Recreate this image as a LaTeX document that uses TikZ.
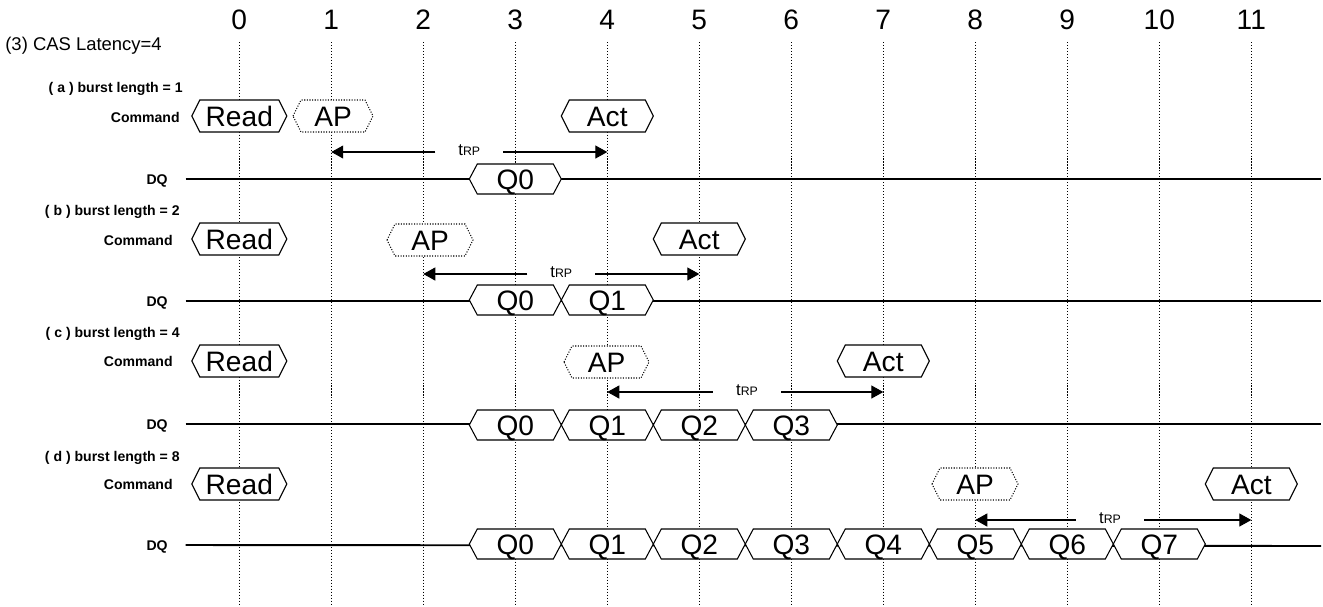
\documentclass[tikz,border=0pt]{standalone}
\usepackage{fontspec}
\setmainfont{Liberation Sans}
\usetikzlibrary{arrows.meta}

\tikzset{
  gridline/.style={line width=0.5pt, dash pattern=on 0.6pt off 1.1pt},
  busline/.style={line width=1.1pt},
  cmdbox/.style={draw, fill=white, line width=0.6pt},
  apbox/.style={cmdbox, dash pattern=on 0.6pt off 0.9pt},
  boxtext/.style={inner sep=0pt, font=\fontsize{16}{18}\selectfont, text height=11.5pt, text depth=0pt},
  clocknum/.style={inner sep=0pt, font=\fontsize{16}{18}\selectfont, text height=11.5pt, text depth=0pt},
  rowlabel/.style={anchor=east, inner sep=0pt, font=\bfseries\fontsize{8}{10}\selectfont, text height=5.7pt, text depth=0pt},
  trplabel/.style={anchor=base, inner xsep=13pt, inner ysep=0pt, font=\fontsize{9.5}{11}\selectfont},
  trp/.style={-{Triangle[length=6.8pt,width=7.4pt]}, line width=0.6pt},
}

% hexagonal bus box: style, name, x, y, half width, half height, text
\newcommand{\hexbox}[7]{%
  \draw[#1] (#3-#5,#4) -- (#3-#5+8,#4-#6) -- (#3+#5-8,#4-#6) -- (#3+#5,#4)
    -- (#3+#5-8,#4+#6) -- (#3-#5+8,#4+#6) -- cycle;
  \node[boxtext] (#2) at (#3,#4) {#7};
}

\begin{document}
\begin{tikzpicture}[x=0.02cm, y=-0.02cm]
	\useasboundingbox (0,0) rectangle (1323,606);
	% clock cycles
	\foreach \k in {0,...,11} {
		\node[clocknum] (t\k) at (239.3+92*\k,19.5) {\k};
		\draw[gridline] (t\k |- 0,42) -- (t\k |- 0,606);
	}
	\node[anchor=west, inner sep=0pt, font=\fontsize{10.5}{12}\selectfont, text height=7.5pt, text depth=0pt] (title) at (5,44) {(3) CAS Latency=4};
	%
	% (a) burst length = 1
	\node[rowlabel] (lbl-a) at (183,87) {( a ) burst length = 1};
	\node[rowlabel] (cmd-a) at (180,117) {Command};
	\node[rowlabel] (dq-a) at (168,179) {DQ};
	\coordinate (dqend-a) at (1321,179);
	\draw[busline] ([xshift=10pt]dq-a.east) -- (dqend-a);
	\hexbox{cmdbox}{rd-a}{239.3}{116}{47.5}{16}{Read}
	\hexbox{apbox}{ap-a}{333}{116}{40}{16}{AP}
	\hexbox{cmdbox}{act-a}{607.3}{116}{46}{16}{Act}
	\hexbox{cmdbox}{q0-a}{515.3}{179}{46}{15}{Q0}
	\coordinate (ts-a) at (331.3,152);
	\coordinate (te-a) at (607.3,152);
	\node[trplabel] (trp-a) at (469.3,155) {t{\fontsize{7}{8}\selectfont RP}};
	\draw[trp] (trp-a.west |- ts-a) -- (ts-a);
	\draw[trp] (trp-a.east |- te-a) -- (te-a);
	%
	% (b) burst length = 2
	\node[rowlabel] (lbl-b) at (180,210) {( b ) burst length = 2};
	\node[rowlabel] (cmd-b) at (173,240) {Command};
	\node[rowlabel] (dq-b) at (168,301) {DQ};
	\coordinate (dqend-b) at (1321,301);
	\draw[busline] ([xshift=10pt]dq-b.east) -- (dqend-b);
	\hexbox{cmdbox}{rd-b}{239.3}{239}{47.5}{16}{Read}
	\hexbox{apbox}{ap-b}{430}{240}{43}{16}{AP}
	\hexbox{cmdbox}{act-b}{699.3}{239}{46}{16}{Act}
	\hexbox{cmdbox}{q0-b}{515.3}{300}{46}{15}{Q0}
	\hexbox{cmdbox}{q1-b}{607.3}{300}{46}{15}{Q1}
	\coordinate (ts-b) at (423.3,274);
	\coordinate (te-b) at (699.3,274);
	\node[trplabel] (trp-b) at (561.3,277) {t{\fontsize{7}{8}\selectfont RP}};
	\draw[trp] (trp-b.west |- ts-b) -- (ts-b);
	\draw[trp] (trp-b.east |- te-b) -- (te-b);
	%
	% (c) burst length = 4
	\node[rowlabel] (lbl-c) at (180,332) {( c ) burst length = 4};
	\node[rowlabel] (cmd-c) at (173,361) {Command};
	\node[rowlabel] (dq-c) at (168,424) {DQ};
	\coordinate (dqend-c) at (1321,424);
	\draw[busline] ([xshift=10pt]dq-c.east) -- (dqend-c);
	\hexbox{cmdbox}{rd-c}{239.3}{361}{47.5}{16}{Read}
	\hexbox{apbox}{ap-c}{606.5}{362}{42.5}{16}{AP}
	\hexbox{cmdbox}{act-c}{883.3}{361}{46}{16}{Act}
	\hexbox{cmdbox}{q0-c}{515.3}{425}{46}{15}{Q0}
	\hexbox{cmdbox}{q1-c}{607.3}{425}{46}{15}{Q1}
	\hexbox{cmdbox}{q2-c}{699.3}{425}{46}{15}{Q2}
	\hexbox{cmdbox}{q3-c}{791.3}{425}{46}{15}{Q3}
	\coordinate (ts-c) at (607.3,392);
	\coordinate (te-c) at (883.3,392);
	\node[trplabel] (trp-c) at (747,395) {t{\fontsize{7}{8}\selectfont RP}};
	\draw[trp] (trp-c.west |- ts-c) -- (ts-c);
	\draw[trp] (trp-c.east |- te-c) -- (te-c);
	%
	% (d) burst length = 8
	\node[rowlabel] (lbl-d) at (180,456) {( d ) burst length = 8};
	\node[rowlabel] (cmd-d) at (173,484) {Command};
	\node[rowlabel] (dq-d) at (168,545) {DQ};
	\coordinate (dqend-d) at (1321,546);
	\draw[busline] ([xshift=10pt]dq-d.east) -- (dqend-d);
	\hexbox{cmdbox}{rd-d}{239.3}{484}{47.5}{16}{Read}
	\hexbox{apbox}{ap-d}{975}{484}{43}{16}{AP}
	\hexbox{cmdbox}{act-d}{1251.3}{484}{46}{16}{Act}
	\hexbox{cmdbox}{q0-d}{515.3}{544}{46}{15}{Q0}
	\hexbox{cmdbox}{q1-d}{607.3}{544}{46}{15}{Q1}
	\hexbox{cmdbox}{q2-d}{699.3}{544}{46}{15}{Q2}
	\hexbox{cmdbox}{q3-d}{791.3}{544}{46}{15}{Q3}
	\hexbox{cmdbox}{q4-d}{883.3}{544}{46}{15}{Q4}
	\hexbox{cmdbox}{q5-d}{975.3}{544}{46}{15}{Q5}
	\hexbox{cmdbox}{q6-d}{1067.3}{544}{46}{15}{Q6}
	\hexbox{cmdbox}{q7-d}{1159.3}{544}{46}{15}{Q7}
	\coordinate (ts-d) at (975.3,520);
	\coordinate (te-d) at (1251.3,520);
	\node[trplabel] (trp-d) at (1110,523) {t{\fontsize{7}{8}\selectfont RP}};
	\draw[trp] (trp-d.west |- ts-d) -- (ts-d);
	\draw[trp] (trp-d.east |- te-d) -- (te-d);
\end{tikzpicture}
\end{document}
